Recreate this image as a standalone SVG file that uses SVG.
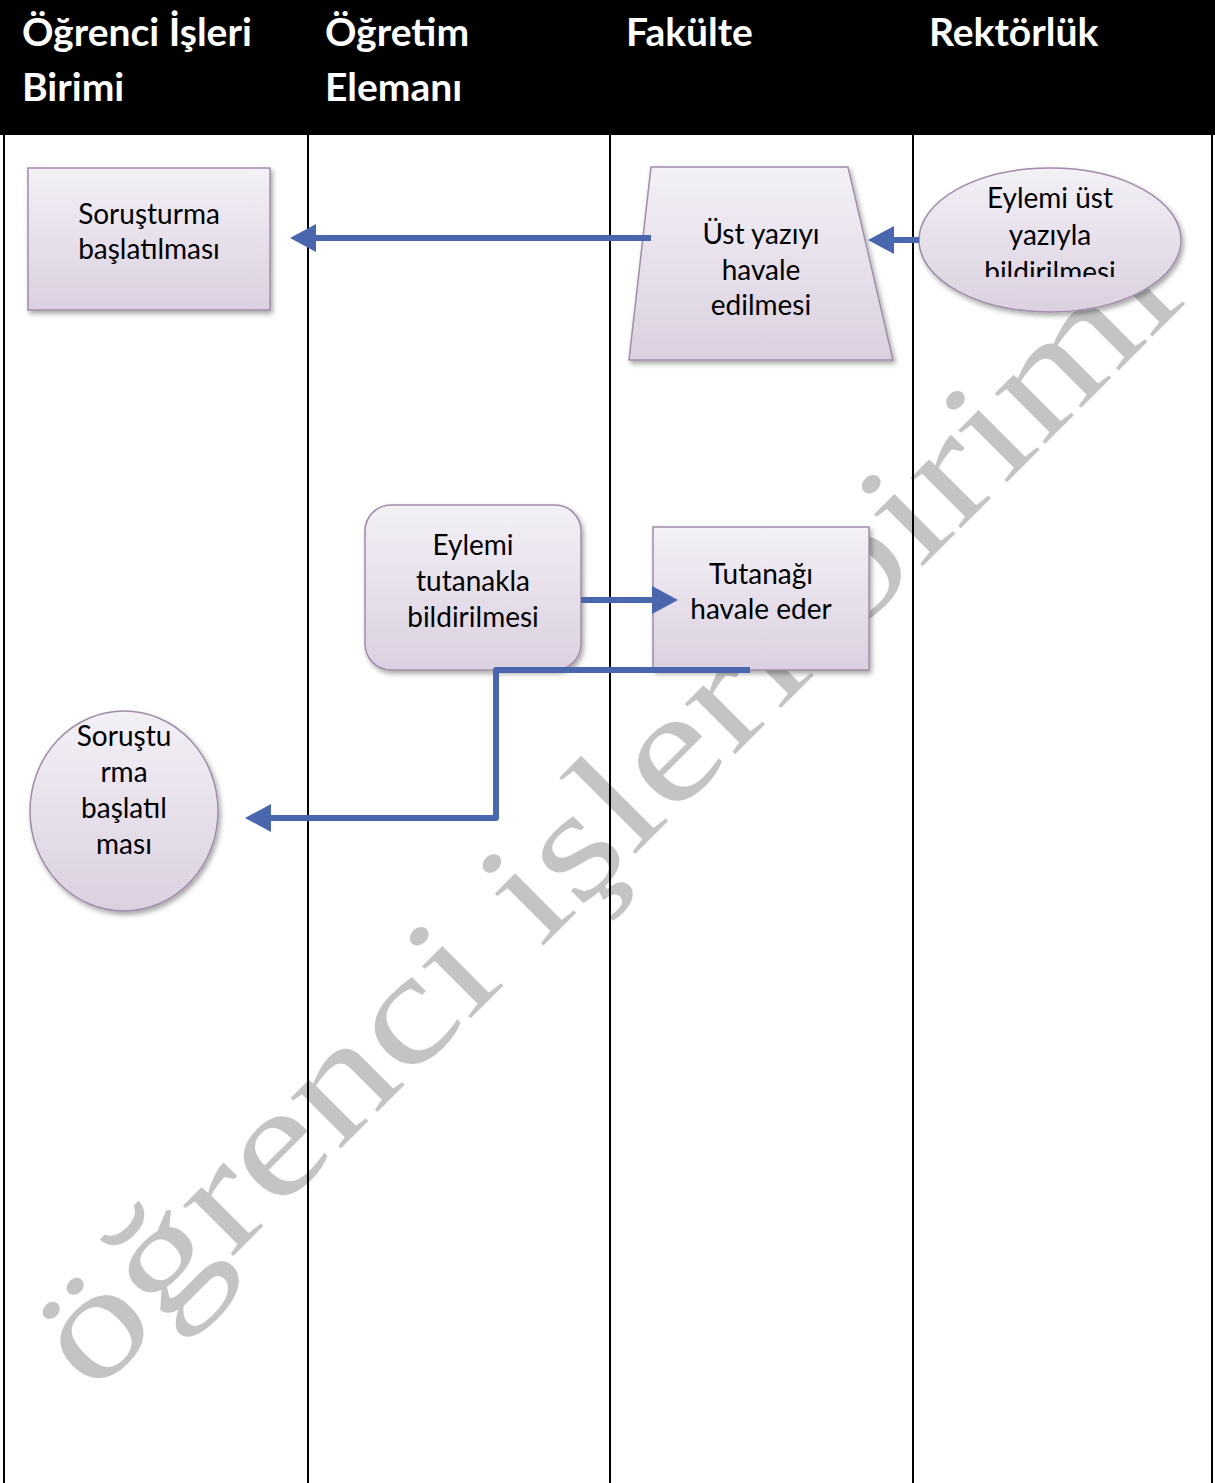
<svg xmlns="http://www.w3.org/2000/svg" width="1215" height="1483" viewBox="0 0 1215 1483">
<defs>
<linearGradient id="nodeFill" x1="0" y1="0" x2="0" y2="1">
<stop offset="0" stop-color="#f3f0f6"/>
<stop offset="1" stop-color="#dbd0e0"/>
</linearGradient>
<filter id="shadow" x="-10%" y="-10%" width="125%" height="125%">
<feDropShadow dx="2" dy="3" stdDeviation="2.5" flood-color="#000" flood-opacity="0.35"/>
</filter>
<marker id="arrow" markerUnits="userSpaceOnUse" markerWidth="26" markerHeight="28" viewBox="0 0 26 28" refX="0" refY="14" orient="auto">
<path d="M0,0 L26,14 L0,28 z" fill="#4a67ad"/>
</marker>
<clipPath id="ellClip"><rect x="900" y="160" width="300" height="117"/></clipPath>
</defs>
<style>
.hdr{font-family:Lato,"Open Sans",sans-serif;font-weight:bold;font-size:39px;fill:#fff}
.node{fill:url(#nodeFill);stroke:#a08da8;stroke-width:1.5;filter:url(#shadow)}
.lbl{font-family:Lato,"Open Sans",sans-serif;font-size:28px;fill:#000;text-anchor:middle}
.conn{fill:none;stroke:#4a67ad;stroke-width:6;stroke-linejoin:round;marker-end:url(#arrow)}
.lane{stroke:#000;stroke-width:2}
.wm{font-family:"Liberation Serif","Times New Roman",serif;font-size:155px;fill:#c4c4c4}
</style>
<rect x="0" y="0" width="1215" height="1483" fill="#fff"/>
<g id="watermark">
<text class="wm" transform="rotate(-45)" x="-922" y="1053" textLength="1549" lengthAdjust="spacingAndGlyphs">öğrenci işleri birimi</text>
</g>
<g id="table">
<rect x="0" y="0" width="1215" height="135" fill="#000"/>
<line class="lane" x1="4" y1="130" x2="4" y2="1483"/>
<line class="lane" x1="308" y1="130" x2="308" y2="1483"/>
<line class="lane" x1="610" y1="130" x2="610" y2="1483"/>
<line class="lane" x1="913" y1="130" x2="913" y2="1483"/>
<line class="lane" x1="1212" y1="130" x2="1212" y2="1483"/>
<text class="hdr" x="22" y="46">Öğrenci İşleri</text>
<text class="hdr" x="22" y="101">Birimi</text>
<text class="hdr" x="325" y="46">Öğretim</text>
<text class="hdr" x="325" y="101">Elemanı</text>
<text class="hdr" x="626" y="46">Fakülte</text>
<text class="hdr" x="929" y="46">Rektörlük</text>
</g>
<g id="n1">
<rect class="node" x="28" y="168" width="242" height="142"/>
<text class="lbl" x="149" y="224">Soruşturma</text>
<text class="lbl" x="149" y="259">başlatılması</text>
</g>
<g id="n2">
<polygon class="node" points="651,167 848,167 893,360 629,360"/>
<text class="lbl" x="761" y="244">Üst yazıyı</text>
<text class="lbl" x="761" y="280">havale</text>
<text class="lbl" x="761" y="315">edilmesi</text>
</g>
<g id="n3">
<ellipse class="node" cx="1050" cy="240" rx="131" ry="72"/>
<g clip-path="url(#ellClip)">
<text class="lbl" x="1050" y="208">Eylemi üst</text>
<text class="lbl" x="1050" y="245">yazıyla</text>
<text class="lbl" x="1050" y="282">bildirilmesi</text>
</g>
</g>
<g id="n4">
<rect class="node" x="365" y="505" width="216" height="165" rx="26"/>
<text class="lbl" x="473" y="555">Eylemi</text>
<text class="lbl" x="473" y="591">tutanakla</text>
<text class="lbl" x="473" y="627">bildirilmesi</text>
</g>
<g id="n5">
<rect class="node" x="653" y="527" width="216" height="143"/>
<text class="lbl" x="761" y="584">Tutanağı</text>
<text class="lbl" x="761" y="619">havale eder</text>
</g>
<g id="n6">
<ellipse class="node" cx="124" cy="811" rx="94" ry="100"/>
<text class="lbl" x="124" y="746">Soruştu</text>
<text class="lbl" x="124" y="782">rma</text>
<text class="lbl" x="124" y="818">başlatıl</text>
<text class="lbl" x="124" y="854">ması</text>
</g>
<g id="connectors">
<path class="conn" d="M651,238 L316,238"/>
<path class="conn" d="M919,240 L894,240"/>
<path class="conn" d="M581,600 L652,600"/>
<path class="conn" d="M750,670 L496,670 L496,818 L271,818"/>
</g>
</svg>
